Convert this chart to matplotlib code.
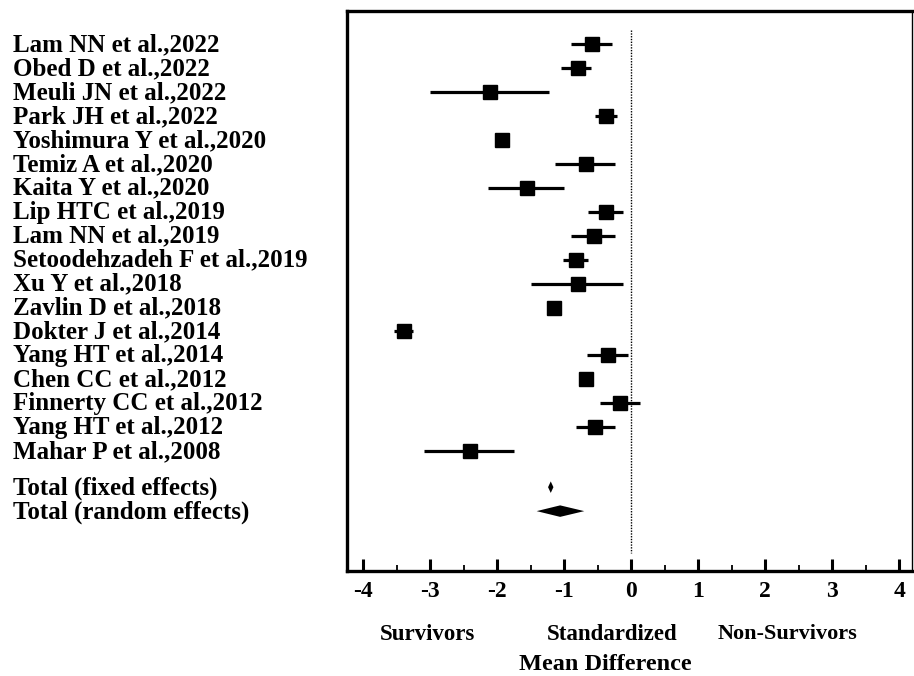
import matplotlib
matplotlib.use('Agg')
import matplotlib.pyplot as plt
from matplotlib.transforms import blended_transform_factory, ScaledTranslation
from matplotlib.ticker import MultipleLocator

plt.rcParams['font.family'] = 'Liberation Serif'
plt.rcParams['font.weight'] = 'bold'
plt.rcParams['axes.unicode_minus'] = False

studies = ['Lam NN et al.,2022', 'Obed D et al.,2022', 'Meuli JN et al.,2022',
           'Park JH et al.,2022', 'Yoshimura Y et al.,2020', 'Temiz A et al.,2020',
           'Kaita Y et al.,2020', 'Lip HTC et al.,2019', 'Lam NN et al.,2019',
           'Setoodehzadeh F et al.,2019', 'Xu Y et al.,2018', 'Zavlin D et al.,2018',
           'Dokter J et al.,2014', 'Yang HT et al.,2014', 'Chen CC et al.,2012',
           'Finnerty CC et al.,2012', 'Yang HT et al.,2012', 'Mahar P et al.,2008']
smd = [-0.59, -0.80, -2.10, -0.38, -1.92, -0.68, -1.56, -0.37, -0.56,
       -0.83, -0.80, -1.15, -3.39, -0.35, -0.68, -0.16, -0.54, -2.41]
ci_lo = [-0.90, -1.04, -3.00, -0.54, -1.98, -1.14, -2.14, -0.64, -0.90,
         -1.02, -1.50, -1.20, -3.54, -0.66, -0.73, -0.47, -0.83, -3.09]
ci_hi = [-0.29, -0.60, -1.23, -0.21, -1.86, -0.24, -1.00, -0.12, -0.24,
         -0.65, -0.12, -1.10, -3.26, -0.05, -0.63, 0.13, -0.24, -1.75]

totals = ['Total (fixed effects)', 'Total (random effects)']
tot_smd = [-1.20, -1.06]
tot_lo = [-1.24, -1.41]
tot_hi = [-1.16, -0.70]

fig = plt.figure(figsize=(9.14, 6.76), dpi=100)
ax = fig.add_axes([347/914, 1 - 571/676, (912-347)/914, (571-11)/676])

rows = list(range(len(studies)))
tot_rows = [len(studies) + 0.5, len(studies) + 1.5]

for y, m, lo, hi in zip(rows, smd, ci_lo, ci_hi):
    ax.plot([lo, hi], [y, y], color='black', lw=2.3, solid_capstyle='butt')
    ax.plot(m, y, marker='s', ms=10, color='black')

for y, m, lo, hi in zip(tot_rows, tot_smd, tot_lo, tot_hi):
    h = 0.24
    ax.fill([lo, m, hi, m], [y, y - h, y, y + h], color='black', lw=0)

ax.plot([0, 0], [-0.58, 21.26], color='black', lw=1, ls=(0, (1, 1)))

ax.set_xlim(-4.24, 4.19)
ax.set_ylim(22.0, -1.38)
ax.set_yticks([])
ax.xaxis.set_major_locator(MultipleLocator(1))
ax.xaxis.set_minor_locator(MultipleLocator(0.5))
ax.tick_params(axis='x', which='major', direction='in', length=8.5, width=2.2,
               pad=7, labelsize=17)
ax.tick_params(axis='x', which='minor', direction='in', length=4.5, width=1.3)
for lab in ax.get_xticklabels():
    lab.set_fontweight('bold')

ax.spines['left'].set_linewidth(2.4)
ax.spines['bottom'].set_linewidth(2.4)
ax.spines['top'].set_linewidth(2.4)
ax.spines['right'].set_linewidth(1.0)

# labels sit a touch above the row centre, as in the original
tr = blended_transform_factory(fig.transFigure, ax.transData) + \
    ScaledTranslation(0, 2/100, fig.dpi_scale_trans)
for y, name in zip(rows + tot_rows, studies + totals):
    ax.text(13/914, y, name, transform=tr, ha='left', va='center_baseline',
            fontsize=18, fontweight='bold', clip_on=False)

fig.text(427/914, 1 - 634/676, 'Survivors', ha='center', va='center', fontsize=16.5, fontweight='bold')
fig.text(612/914, 1 - 634/676, 'Standardized', ha='center', va='center', fontsize=16.5, fontweight='bold')
fig.text(787/914, 1 - 634/676, 'Non-Survivors', ha='center', va='center', fontsize=16, fontweight='bold')
fig.text(605/914, 1 - 665/676, 'Mean Difference', ha='center', va='center', fontsize=17.5, fontweight='bold')

fig.savefig('out.png', dpi=100)
